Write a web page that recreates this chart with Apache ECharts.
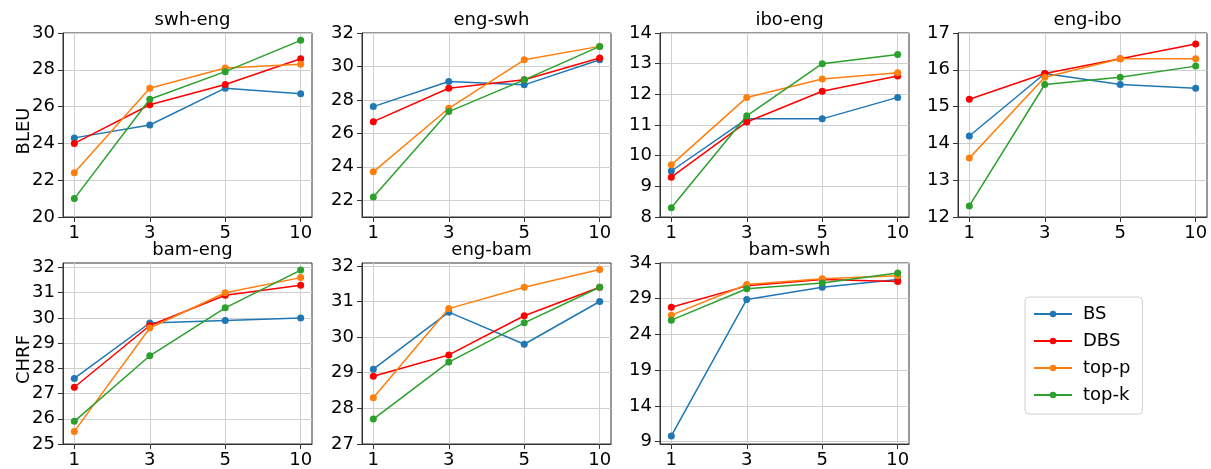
<!DOCTYPE html>
<html>
<head>
<meta charset="utf-8">
<script src="https://cdn.jsdelivr.net/npm/echarts@6/dist/echarts.min.js"></script>
<style>html,body{margin:0;padding:0;background:#fff}#c{width:1211px;height:469px}</style>
</head>
<body>
<div id="c"></div>
<script>
const categories = ['1', '3', '5', '10'];
const methods = ['BS', 'DBS', 'top-p', 'top-k'];
const panelTitles = ['swh-eng', 'eng-swh', 'ibo-eng', 'eng-ibo', 'bam-eng', 'eng-bam', 'bam-swh'];
const metricLabels = ['BLEU', 'CHRF'];

// values per panel, rows in method order: BS, DBS, top-p, top-k
const swhEng = [[24.3, 25.0, 27.0, 26.7], [24.0, 26.1, 27.2, 28.6], [22.4, 27.0, 28.1, 28.3], [21.0, 26.4, 27.9, 29.6]];
const engSwh = [[27.6, 29.1, 28.9, 30.4], [26.7, 28.7, 29.2, 30.5], [23.7, 27.5, 30.4, 31.2], [22.2, 27.3, 29.2, 31.2]];
const iboEng = [[9.5, 11.2, 11.2, 11.9], [9.3, 11.1, 12.1, 12.6], [9.7, 11.9, 12.5, 12.7], [8.3, 11.3, 13.0, 13.3]];
const engIbo = [[14.2, 15.9, 15.6, 15.5], [15.2, 15.9, 16.3, 16.7], [13.6, 15.8, 16.3, 16.3], [12.3, 15.6, 15.8, 16.1]];
const bamEng = [[27.6, 29.8, 29.9, 30.0], [27.25, 29.7, 30.9, 31.3], [25.5, 29.6, 31.0, 31.6], [25.9, 28.5, 30.4, 31.9]];
const engBam = [[29.1, 30.7, 29.8, 31.0], [28.9, 29.5, 30.6, 31.4], [28.3, 30.8, 31.4, 31.9], [27.7, 29.3, 30.4, 31.4]];
const bamSwh = [[9.8, 28.9, 30.6, 31.7], [27.8, 30.8, 31.7, 31.4], [26.7, 31.0, 31.8, 32.2], [26.0, 30.4, 31.2, 32.6]];

// y tick labels per panel
const ticksSwhEng = [20, 22, 24, 26, 28, 30];
const ticksEngSwh = [22, 24, 26, 28, 30, 32];
const ticksIboEng = [8, 9, 10, 11, 12, 13, 14];
const ticksEngIbo = [12, 13, 14, 15, 16, 17];
const ticksBamEng = [25, 26, 27, 28, 29, 30, 31, 32];
const ticksEngBam = [27, 28, 29, 30, 31, 32];
const ticksBamSwh = [9, 14, 19, 24, 29, 34];

const panelData = [swhEng, engSwh, iboEng, engIbo, bamEng, engBam, bamSwh];
const panelTicks = [ticksSwhEng, ticksEngSwh, ticksIboEng, ticksEngIbo, ticksBamEng, ticksEngBam, ticksBamSwh];
const yRanges = [[20, 30], [21, 32], [8, 14], [12, 17], [25, 32.18], [27, 32.08], [8.67, 34]];

const colors = ['#1f77b4', '#ff0000', '#ff7f0e', '#2ca02c'];
const FONT = 'DejaVu Sans';
const lefts = [63, 362, 660, 958];
const tops = [33, 263];
const W = 249, H = 184;

const grids = [], xAxes = [], yAxes = [], series = [], titles = [];
const xIdx = categories.map((c, i) => i);

panelData.forEach((pd, p) => {
  const row = p < 4 ? 0 : 1;
  const col = p % 4;
  grids.push({
    left: lefts[col], top: tops[row], width: W, height: H,
    show: true, borderColor: '#333', borderWidth: 1, backgroundColor: 'transparent'
  });
  titles.push({
    text: panelTitles[p], left: lefts[col] + W / 2, top: tops[row] - 27, textAlign: 'center',
    textStyle: { fontFamily: FONT, fontSize: 18, fontWeight: 'normal', color: '#000' }
  });
  xAxes.push({
    type: 'value', gridIndex: p, min: -0.15, max: 3.15,
    axisLine: { show: true, onZero: false, lineStyle: { color: '#333', width: 1 } },
    axisTick: { show: true, length: 5, customValues: xIdx, lineStyle: { color: '#333' } },
    axisLabel: {
      customValues: xIdx, formatter: v => categories[Math.round(v)] || '',
      fontFamily: FONT, fontSize: 18, color: '#000', margin: 7
    },
    splitLine: { show: true, lineStyle: { color: '#cfcfcf', width: 1 } }
  });
  const yAxis = {
    type: 'value', gridIndex: p, min: yRanges[p][0], max: yRanges[p][1],
    axisLine: { show: true, onZero: false, lineStyle: { color: '#333', width: 1 } },
    axisTick: { show: true, length: 5, customValues: panelTicks[p], lineStyle: { color: '#333' } },
    axisLabel: {
      customValues: panelTicks[p], formatter: v => String(v),
      fontFamily: FONT, fontSize: 18, color: '#000', margin: 8
    },
    splitLine: { show: true, lineStyle: { color: '#cfcfcf', width: 1 } }
  };
  if (col === 0) {
    yAxis.name = metricLabels[row];
    yAxis.nameLocation = 'middle';
    yAxis.nameRotate = 90;
    yAxis.nameGap = 30;
    yAxis.nameMoveOverlap = false;
    yAxis.nameTextStyle = { fontFamily: FONT, fontSize: 18, color: '#000', padding: [0, 12, 0, 0] };
  }
  yAxes.push(yAxis);
  pd.forEach((vals, m) => {
    series.push({
      name: methods[m], type: 'line', xAxisIndex: p, yAxisIndex: p,
      data: vals.map((v, i) => [xIdx[i], v]),
      symbol: 'circle', symbolSize: 7, showSymbol: true,
      lineStyle: { color: colors[m], width: 1.5 },
      itemStyle: { color: colors[m] },
      animation: false, z: 2 + m
    });
  });
});

const chart = echarts.init(document.getElementById('c'), null, { renderer: 'canvas' });
chart.setOption({
  animation: false,
  color: colors,
  title: titles,
  grid: grids,
  xAxis: xAxes,
  yAxis: yAxes,
  series: series,
  legend: {
    data: methods, orient: 'vertical', left: 1025, top: 297,
    borderColor: '#d0d0d0', borderWidth: 1, borderRadius: 4,
    padding: [7, 12, 9, 8], itemGap: 7, itemWidth: 38, itemHeight: 8,
    textStyle: { fontFamily: FONT, fontSize: 18, color: '#000', padding: [0, 0, 0, 6], lineHeight: 20 }
  }
});
</script>
</body>
</html>
